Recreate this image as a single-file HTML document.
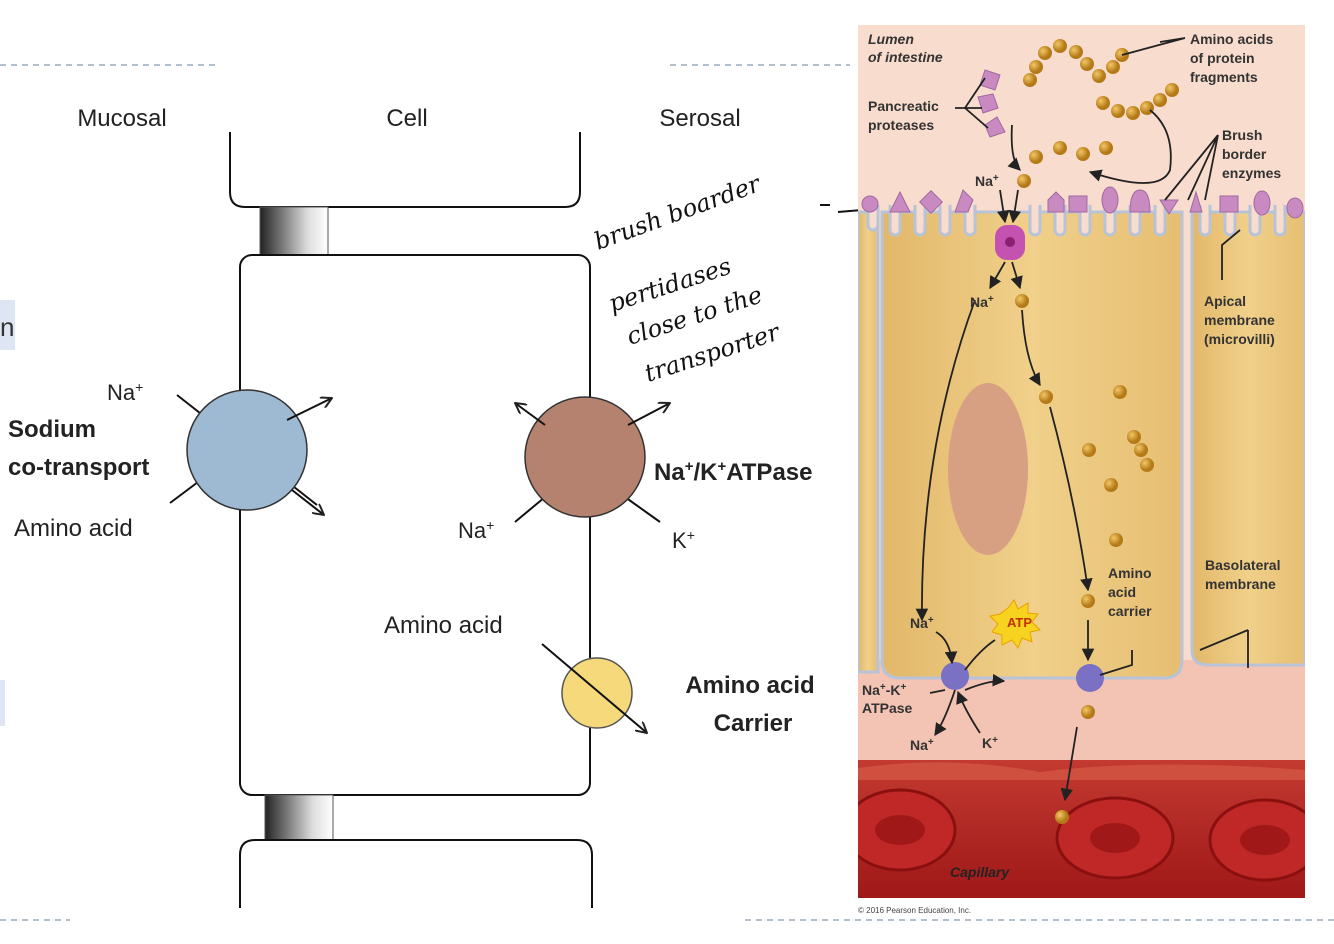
<!DOCTYPE html>
<html><head><meta charset="utf-8"><style>
body{margin:0;width:1334px;height:944px;background:#fff;overflow:hidden;position:relative;font-family:"Liberation Sans",Arial,sans-serif}
svg{position:absolute;left:0;top:0}
</style></head><body>
<svg width="1334" height="944" viewBox="0 0 1334 944">
<defs>
<clipPath id="fig"><rect x="858" y="25" width="447" height="873"/></clipPath>
<linearGradient id="tj" x1="0" x2="1"><stop offset="0" stop-color="#222"/><stop offset="0.7" stop-color="#ddd"/><stop offset="1" stop-color="#fff"/></linearGradient>
<radialGradient id="ball" cx="0.35" cy="0.35"><stop offset="0" stop-color="#f3c766"/><stop offset="1" stop-color="#b57a18"/></radialGradient>
<linearGradient id="cellg" x1="0" x2="1"><stop offset="0" stop-color="#e2b86a"/><stop offset="0.5" stop-color="#f0d08a"/><stop offset="1" stop-color="#e6be72"/></linearGradient>
<linearGradient id="blood" x1="0" y1="0" x2="0" y2="1"><stop offset="0" stop-color="#c23a30"/><stop offset="1" stop-color="#a01818"/></linearGradient>
<marker id="ar" viewBox="0 0 10 10" refX="9" refY="5" markerWidth="7" markerHeight="7" orient="auto"><path d="M0,0 L10,5 L0,10 z" fill="#222"/></marker>
<marker id="oa" viewBox="0 0 12 12" refX="11" refY="6" markerWidth="12" markerHeight="12" markerUnits="userSpaceOnUse" orient="auto"><path d="M0,0 L11,6 L0,12" fill="none" stroke="#222" stroke-width="2"/></marker>
</defs>
<line x1="0" y1="65" x2="215" y2="65" stroke="#9ab" stroke-width="1.5" stroke-dasharray="6,5"/>
<line x1="670" y1="65" x2="850" y2="65" stroke="#9ab" stroke-width="1.5" stroke-dasharray="6,5"/>
<line x1="0" y1="920" x2="70" y2="920" stroke="#9ab" stroke-width="1.5" stroke-dasharray="6,5"/>
<line x1="745" y1="920" x2="1334" y2="920" stroke="#9ab" stroke-width="1.5" stroke-dasharray="6,5"/>
<rect x="0" y="300" width="15" height="50" fill="#dde6f2"/>
<text x="0" y="336" font-size="26" fill="#333">n</text>
<rect x="0" y="680" width="5" height="46" fill="#dde6f2"/>
<text x="122" y="126" font-size="24" text-anchor="middle" fill="#222">Mucosal</text>
<text x="407" y="126" font-size="24" text-anchor="middle" fill="#222">Cell</text>
<text x="700" y="126" font-size="24" text-anchor="middle" fill="#222">Serosal</text>
<path d="M230,132 V192 Q230,207 245,207 H565 Q580,207 580,192 V132" fill="none" stroke="#111" stroke-width="2"/>
<rect x="260" y="207" width="68" height="48" fill="url(#tj)" stroke="#555" stroke-width="1"/>
<rect x="240" y="255" width="350" height="540" rx="12" fill="#fff" stroke="#111" stroke-width="2"/>
<rect x="265" y="795" width="68" height="45" fill="url(#tj)" stroke="#555" stroke-width="1"/>
<path d="M240,908 V855 Q240,840 255,840 H577 Q592,840 592,855 V908" fill="none" stroke="#111" stroke-width="2"/>
<line x1="177" y1="395" x2="317" y2="505" stroke="#111" stroke-width="2"/>
<line x1="170" y1="503" x2="214" y2="470" stroke="#111" stroke-width="2"/>
<circle cx="247" cy="450" r="60" fill="#9eb9d2" stroke="#333" stroke-width="1.5"/>
<line x1="287" y1="420" x2="332" y2="398" stroke="#111" stroke-width="2" marker-end="url(#oa)"/>
<line x1="292" y1="490" x2="324" y2="515" stroke="#111" stroke-width="2" marker-end="url(#oa)"/>
<text x="107" y="400" font-size="22" fill="#222">Na<tspan dy="-8" font-size="14">+</tspan></text>
<text x="8" y="437" font-size="24" font-weight="bold" fill="#222">Sodium</text>
<text x="8" y="475" font-size="24" font-weight="bold" fill="#222">co-transport</text>
<text x="14" y="536" font-size="24" fill="#222">Amino acid</text>
<line x1="515" y1="522" x2="545" y2="497" stroke="#111" stroke-width="2"/>
<line x1="625" y1="497" x2="660" y2="522" stroke="#111" stroke-width="2"/>
<circle cx="585" cy="457" r="60" fill="#b5826f" stroke="#333" stroke-width="1.5"/>
<line x1="545" y1="425" x2="515" y2="403" stroke="#111" stroke-width="2" marker-end="url(#oa)"/>
<line x1="628" y1="425" x2="670" y2="403" stroke="#111" stroke-width="2" marker-end="url(#oa)"/>
<text x="458" y="538" font-size="22" fill="#222">Na<tspan dy="-8" font-size="14">+</tspan></text>
<text x="672" y="548" font-size="22" fill="#222">K<tspan dy="-8" font-size="14">+</tspan></text>
<text x="654" y="480" font-size="24" font-weight="bold" fill="#222">Na<tspan dy="-9" font-size="15">+</tspan><tspan dy="9">/K</tspan><tspan dy="-9" font-size="15">+</tspan><tspan dy="9">ATPase</tspan></text>
<circle cx="597" cy="693" r="35" fill="#f5d97a" stroke="#555" stroke-width="1.5"/>
<line x1="542" y1="644" x2="647" y2="733" stroke="#111" stroke-width="2" marker-end="url(#oa)"/>
<text x="384" y="633" font-size="24" fill="#222">Amino acid</text>
<text x="750" y="693" font-size="24" font-weight="bold" text-anchor="middle" fill="#222">Amino acid</text>
<text x="753" y="731" font-size="24" font-weight="bold" text-anchor="middle" fill="#222">Carrier</text>
<g font-family="'DejaVu Serif',serif" font-style="italic" font-size="24" fill="#111">
<text transform="translate(598,250) rotate(-20)">brush boarder</text>
<text transform="translate(612,312) rotate(-18)">pertidases</text>
<text transform="translate(630,345) rotate(-18)">close to the</text>
<text transform="translate(648,382) rotate(-18)">transporter</text>
</g>
<line x1="820" y1="205" x2="830" y2="205" stroke="#111" stroke-width="2"/>
<line x1="838" y1="212" x2="862" y2="210" stroke="#111" stroke-width="2"/>

<g clip-path="url(#fig)">
<rect x="858" y="25" width="447" height="873" fill="#f8dccd"/>
<rect x="858" y="660" width="447" height="105" fill="#f3c3b4"/>
<rect x="858" y="212" width="20" height="460" fill="url(#cellg)" stroke="#b8c3d8" stroke-width="3"/>
<path d="M882,212 H1182 V660 Q1182,678 1164,678 H900 Q882,678 882,660 Z" fill="url(#cellg)" stroke="#b8c3d8" stroke-width="3"/>
<path d="M1192,212 H1305 V665 H1208 Q1192,665 1192,650 Z" fill="url(#cellg)" stroke="#b8c3d8" stroke-width="3"/>
<g fill="#f8dccd" stroke="#b8c3d8" stroke-width="3">
<path d="M868,205 v20 a5,5 0 0 0 10,0 v-20 M890,205 v25 a5,5 0 0 0 10,0 v-25 M915,205 v25 a5,5 0 0 0 10,0 v-25 M940,205 v25 a5,5 0 0 0 10,0 v-25 M965,205 v25 a5,5 0 0 0 10,0 v-25 M1030,205 v25 a5,5 0 0 0 10,0 v-25 M1055,205 v25 a5,5 0 0 0 10,0 v-25 M1080,205 v25 a5,5 0 0 0 10,0 v-25 M1105,205 v25 a5,5 0 0 0 10,0 v-25 M1130,205 v25 a5,5 0 0 0 10,0 v-25 M1155,205 v25 a5,5 0 0 0 10,0 v-25 M1200,205 v25 a5,5 0 0 0 10,0 v-25 M1225,205 v25 a5,5 0 0 0 10,0 v-25 M1250,205 v25 a5,5 0 0 0 10,0 v-25 M1275,205 v25 a5,5 0 0 0 10,0 v-25"/>
</g>
<g fill="#c98ac2" stroke="#a06aa0" stroke-width="1">
<circle cx="870" cy="204" r="8"/><path d="M890,212 l10,-20 l10,20z"/><rect x="923" y="194" width="16" height="16" transform="rotate(45 931 202)"/><path d="M955,212 l8,-22 l10,10 l-5,12z"/><path d="M1048,212 v-12 l8,-8 l8,8 v12z"/><rect x="1069" y="196" width="18" height="16"/><ellipse cx="1110" cy="200" rx="8" ry="13"/><path d="M1130,212 q0,-22 10,-22 q10,0 10,22z"/><path d="M1160,200 l18,0 l-9,14z"/><path d="M1190,212 l6,-20 l6,20z"/><rect x="1220" y="196" width="18" height="16"/><ellipse cx="1262" cy="203" rx="8" ry="12"/><ellipse cx="1295" cy="208" rx="8" ry="10"/>
<path d="M985,70 l15,5 l-5,15 l-15,-5z"/><path d="M978,97 l15,-3 l5,14 l-15,5z"/><path d="M985,125 l12,-8 l8,15 l-15,5z"/>
</g>
<rect x="995" y="225" width="30" height="35" rx="12" fill="#c452b0"/>
<circle cx="1010" cy="242" r="5" fill="#8a2070"/>
<ellipse cx="988" cy="469" rx="40" ry="86" fill="#d7a082"/>
<rect x="858" y="760" width="447" height="138" fill="url(#blood)"/>
<path d="M858,768 Q950,755 1040,772 Q1150,758 1305,770 V780 H858Z" fill="#d05040"/>
<g fill="#c02828" stroke="#8a1010" stroke-width="3">
<ellipse cx="900" cy="830" rx="55" ry="40"/><ellipse cx="1115" cy="838" rx="58" ry="40"/><ellipse cx="1265" cy="840" rx="55" ry="40"/>
</g>
<g fill="#a01818"><ellipse cx="900" cy="830" rx="25" ry="15"/><ellipse cx="1115" cy="838" rx="25" ry="15"/><ellipse cx="1265" cy="840" rx="25" ry="15"/></g>
</g>
<circle cx="955" cy="676" r="14" fill="#7a70c4"/>
<circle cx="1090" cy="678" r="14" fill="#7a70c4"/>
<g fill="url(#ball)">
<circle cx="1036" cy="67" r="7"/><circle cx="1045" cy="53" r="7"/><circle cx="1060" cy="46" r="7"/><circle cx="1076" cy="52" r="7"/><circle cx="1087" cy="64" r="7"/><circle cx="1099" cy="76" r="7"/><circle cx="1113" cy="67" r="7"/><circle cx="1122" cy="55" r="7"/><circle cx="1030" cy="80" r="7"/>
<circle cx="1103" cy="103" r="7"/><circle cx="1118" cy="111" r="7"/><circle cx="1133" cy="113" r="7"/><circle cx="1147" cy="108" r="7"/><circle cx="1160" cy="100" r="7"/><circle cx="1172" cy="90" r="7"/>
<circle cx="1036" cy="157" r="7"/><circle cx="1060" cy="148" r="7"/><circle cx="1083" cy="154" r="7"/><circle cx="1106" cy="148" r="7"/><circle cx="1024" cy="181" r="7"/>
<circle cx="1022" cy="301" r="7"/><circle cx="1046" cy="397" r="7"/><circle cx="1120" cy="392" r="7"/><circle cx="1089" cy="450" r="7"/><circle cx="1134" cy="437" r="7"/><circle cx="1141" cy="450" r="7"/><circle cx="1147" cy="465" r="7"/><circle cx="1111" cy="485" r="7"/><circle cx="1116" cy="540" r="7"/><circle cx="1088" cy="601" r="7"/><circle cx="1088" cy="712" r="7"/><circle cx="1062" cy="817" r="7"/>
</g>
<g fill="none" stroke="#222" stroke-width="1.8">
<path d="M1000,190 L1005,222" marker-end="url(#ar)"/><path d="M1018,190 L1013,222" marker-end="url(#ar)"/>
<path d="M1005,262 L990,288" marker-end="url(#ar)"/><path d="M1012,262 L1020,288" marker-end="url(#ar)"/>
<path d="M975,300 Q920,450 922,620" marker-end="url(#ar)"/>
<path d="M1022,310 Q1025,360 1040,385" marker-end="url(#ar)"/>
<path d="M1050,407 Q1075,500 1088,590" marker-end="url(#ar)"/>
<path d="M1088,620 V660" marker-end="url(#ar)"/>
<path d="M936,632 Q950,640 952,663" marker-end="url(#ar)"/>
<path d="M965,670 Q980,650 995,640"/><path d="M965,690 Q990,680 1004,681" marker-end="url(#ar)"/>
<path d="M955,690 Q945,720 935,735" marker-end="url(#ar)"/>
<path d="M980,733 Q965,710 958,692" marker-end="url(#ar)"/>
<path d="M1077,727 L1065,800" marker-end="url(#ar)"/>
<path d="M1012,125 Q1010,160 1020,170" marker-end="url(#ar)"/>
<path d="M1150,110 Q1175,130 1170,170 Q1160,195 1090,172" marker-end="url(#ar)"/>
<path d="M1185,38 L1160,42 M1185,38 L1122,55"/>
<path d="M1218,135 L1188,200 M1218,135 L1165,200 M1218,135 L1205,200"/>
<path d="M1222,280 V245 L1240,230"/>
<path d="M1248,630 V668 M1248,630 L1200,650"/>
<path d="M1132,650 V665 L1100,675"/>
<path d="M930,693 L945,690"/>
<path d="M955,108 H982 M965,108 L985,78 M965,108 L988,128"/>
</g>
<polygon points="1008,608 1014,600 1018,609 1028,603 1028,613 1038,614 1032,622 1040,630 1030,632 1032,642 1022,638 1018,648 1012,640 1002,645 1002,635 992,632 998,624 990,616 1000,614" fill="#f7d21e" stroke="#e8a000"/>
<text x="1007" y="627" font-size="13" font-weight="bold" fill="#c03000">ATP</text>
<g font-size="14" font-weight="bold" fill="#333">
<text x="868" y="44" font-style="italic">Lumen</text><text x="868" y="62" font-style="italic">of intestine</text>
<text x="1190" y="44">Amino acids</text><text x="1190" y="63">of protein</text><text x="1190" y="82">fragments</text>
<text x="868" y="111">Pancreatic</text><text x="868" y="130">proteases</text>
<text x="1222" y="140">Brush</text><text x="1222" y="159">border</text><text x="1222" y="178">enzymes</text>
<text x="975" y="186">Na<tspan dy="-5" font-size="10">+</tspan></text>
<text x="970" y="307">Na<tspan dy="-5" font-size="10">+</tspan></text>
<text x="1204" y="306">Apical</text><text x="1204" y="325">membrane</text><text x="1204" y="344">(microvilli)</text>
<text x="1108" y="578">Amino</text><text x="1108" y="597">acid</text><text x="1108" y="616">carrier</text>
<text x="1205" y="570">Basolateral</text><text x="1205" y="589">membrane</text>
<text x="910" y="628">Na<tspan dy="-5" font-size="10">+</tspan></text>
<text x="862" y="695">Na<tspan dy="-5" font-size="10">+</tspan><tspan dy="5">-K</tspan><tspan dy="-5" font-size="10">+</tspan></text>
<text x="862" y="713">ATPase</text>
<text x="910" y="750">Na<tspan dy="-5" font-size="10">+</tspan></text>
<text x="982" y="748">K<tspan dy="-5" font-size="10">+</tspan></text>
<text x="950" y="877" font-style="italic" fill="#222">Capillary</text>
</g>
<text x="858" y="913" font-size="8" fill="#444">© 2016 Pearson Education, Inc.</text>
</svg>
</body></html>
